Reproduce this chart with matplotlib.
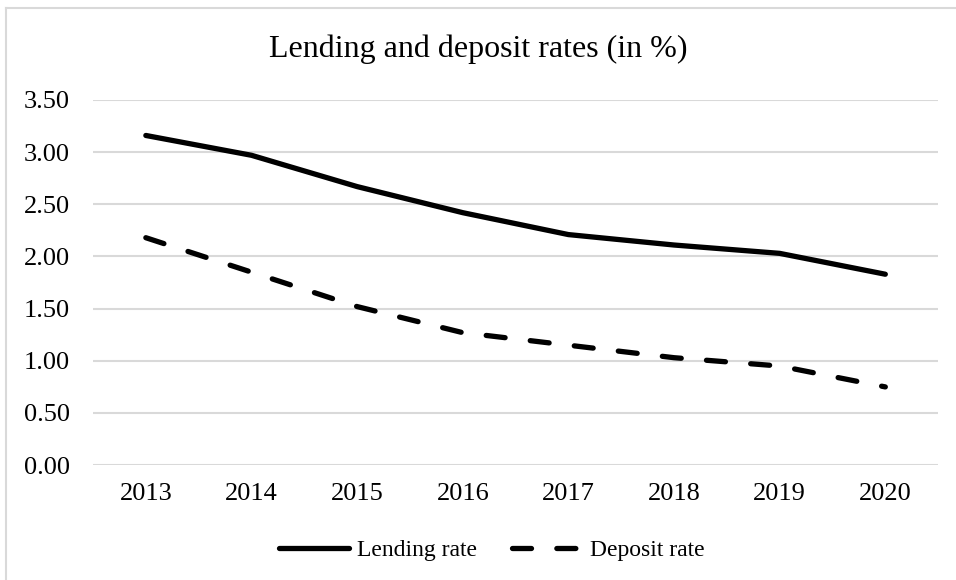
import matplotlib.pyplot as plt
from matplotlib.lines import Line2D

years = ["2013", "2014", "2015", "2016", "2017", "2018", "2019", "2020"]
lending_rate = [3.16, 2.97, 2.67, 2.42, 2.21, 2.11, 2.03, 1.83]
deposit_rate = [2.18, 1.85, 1.52, 1.27, 1.15, 1.03, 0.95, 0.75]
y_ticks = [0.0, 0.5, 1.0, 1.5, 2.0, 2.5, 3.0, 3.5]

plt.rcParams['font.family'] = ['Liberation Serif', 'DejaVu Serif']

fig = plt.figure(figsize=(9.56, 5.8), dpi=100)
ax = fig.add_axes([0.0973, 0.198, 0.884, 0.6296])

x = range(len(years))
ax.plot(x, lending_rate, color='black', lw=3.8, solid_capstyle='round',
        solid_joinstyle='round', label='Lending rate')
ax.plot(x, deposit_rate, color='black', lw=3.8, dashes=(3.6, 4.8),
        dash_capstyle='round', label='Deposit rate')

ax.set_xlim(-0.5, len(years) - 0.5)
ax.set_ylim(0, 3.5)
ax.set_yticks(y_ticks)
ax.set_yticklabels([f"{v:.2f}" for v in y_ticks])
ax.set_xticks(list(x))
ax.set_xticklabels(years)
ax.tick_params(axis='both', length=0, labelsize=19)
ax.tick_params(axis='y', pad=16.5)
ax.tick_params(axis='x', pad=13)
ax.grid(axis='y', color='#d9d9d9', lw=1.5)
ax.set_axisbelow(True)
for s in ax.spines.values():
    s.set_visible(False)

fig.text(0.5, 0.915, "Lending and deposit rates (in %)", ha='center', va='center', fontsize=23)

ax.legend(loc='center', bbox_to_anchor=(0.4716, -0.233), ncol=2, frameon=False,
          fontsize=17, handlelength=3.0, handletextpad=0.3, columnspacing=1.5)

# light outer border (only top and left visible in the reference)
fig.add_artist(Line2D([0.006, 1.0], [0.986, 0.986], transform=fig.transFigure, color='#d9d9d9', lw=1.5))
fig.add_artist(Line2D([0.006, 0.006], [0.0, 0.986], transform=fig.transFigure, color='#d9d9d9', lw=1.5))

fig.savefig("out.png", dpi=100)
